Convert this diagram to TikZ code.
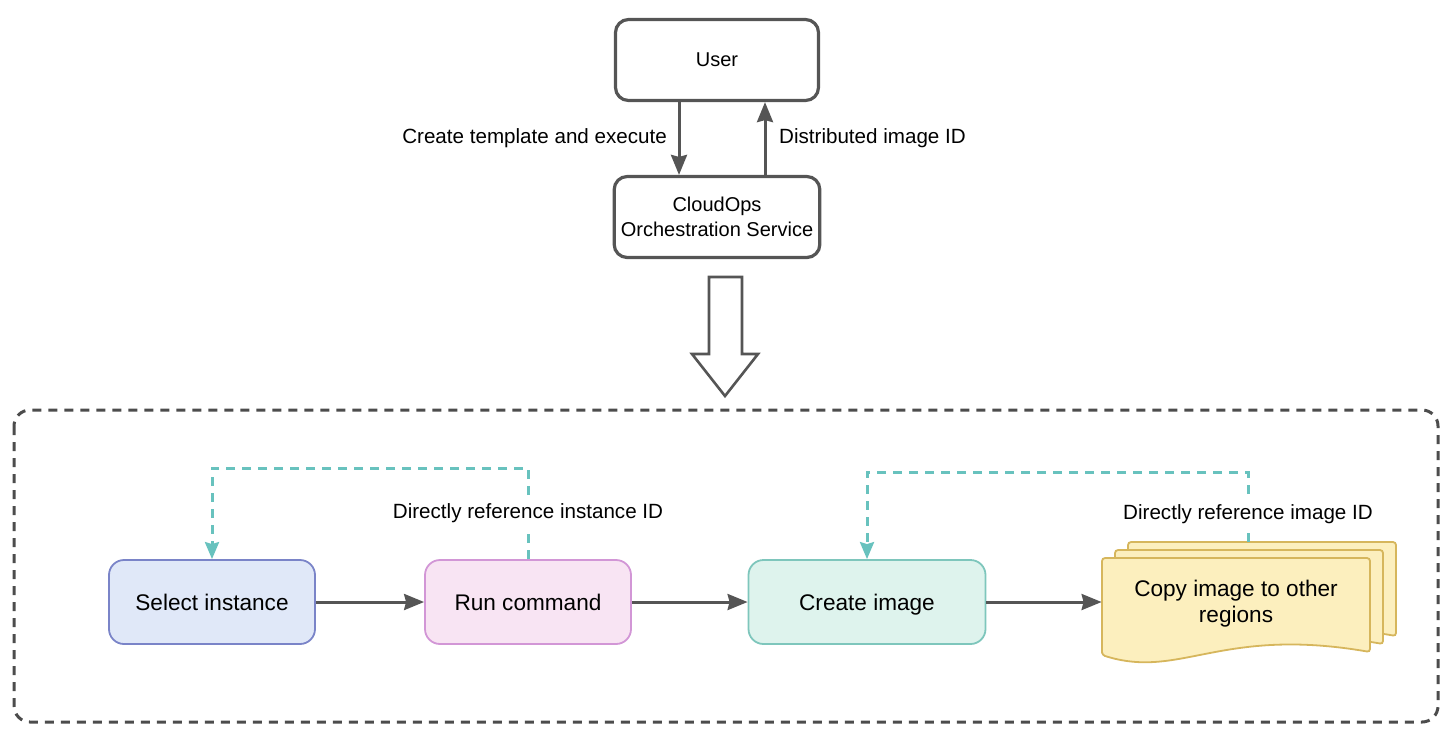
\documentclass[tikz,border=0pt]{standalone}
\usepackage{fontspec}
\setmainfont{Liberation Sans}
\usepackage{tikz}
\usetikzlibrary{arrows.meta}

\definecolor{linegray}{RGB}{85,85,85}
\definecolor{selfill}{RGB}{224,232,248}
\definecolor{seldraw}{RGB}{122,132,200}
\definecolor{runfill}{RGB}{248,228,243}
\definecolor{rundraw}{RGB}{210,150,214}
\definecolor{crefill}{RGB}{222,243,237}
\definecolor{credraw}{RGB}{126,198,188}
\definecolor{docfill}{RGB}{252,239,190}
\definecolor{docdraw}{RGB}{214,182,92}
\definecolor{reflink}{RGB}{104,194,190}

\tikzset{
    topbox/.style={draw=linegray, line width=1.6pt, rounded corners=6.5pt, minimum width=101.5pt, minimum height=40.5pt, align=center, font=\fontsize{10}{12.5}\selectfont},
    stepbox/.style={line width=0.9pt, rounded corners=7.5pt, minimum width=103pt, minimum height=42pt, text height=8.6pt, text depth=0pt, font=\fontsize{11.3}{13}\selectfont},
    arrowline/.style={draw=linegray, line width=1.5pt, -{Stealth[length=10pt,width=8pt,inset=1pt]}},
    refline/.style={draw=reflink, line width=1.5pt, dash pattern=on 4.5pt off 3.5pt, -{Stealth[length=8.5pt,width=7pt,inset=1pt]}},
    steplabel/.style={font=\fontsize{10.3}{12}\selectfont},
    docpage/.style={draw=docdraw, fill=docfill, line width=0.9pt, rounded corners=1.5pt}
}

\begin{document}
\begin{tikzpicture}[x=0.5pt, y=-0.5pt]
    \useasboundingbox (0,0) rectangle (1456,736);

    % top part
    \node[topbox] (user) at (717,60) {User};
    \node[topbox] (cloud) at (717,217) {CloudOps\\Orchestration Service};
    \draw[arrowline] ([xshift=-19pt]user.south) -- node[steplabel, left=2pt] {Create template and execute} ([xshift=-19pt]cloud.north);
    \draw[arrowline] ([xshift=24pt]cloud.north) -- node[steplabel, right=3pt] {Distributed image ID} ([xshift=24pt]user.south);

    % hollow arrow
    \draw[linegray, line width=1.3pt] (709,277) -- (742,277) -- (742,354) -- (758,354) -- (725,396) -- (692,354) -- (709,354) -- cycle;

    % dashed group
    \draw[draw=linegray!90!black, line width=1.5pt, dash pattern=on 4.5pt off 3.5pt, rounded corners=8pt] (14,410) rectangle (1438,722);

    % steps
    \node[stepbox, draw=seldraw, fill=selfill] (select) at (212,602) {Select instance};
    \node[stepbox, draw=rundraw, fill=runfill] (run) at (528,602) {Run command};
    \node[stepbox, draw=credraw, fill=crefill, minimum width=118.5pt] (create) at (867,602) {Create image};

    % stack of documents
    \foreach \d in {2,1,0}
        \draw[docpage, shift={(1102+13*\d,558-8*\d)}] (0,97) -- (0,0) -- (268,0) -- (268,94) .. controls (118,68) and (78,122) .. (0,97) -- cycle;
    \node[align=center, minimum width=134pt, font=\fontsize{11.3}{13}\selectfont] (copy) at (1236,604) {Copy image to other\\regions};
    \coordinate (stacktop) at (1248,542);

    \draw[arrowline] (select) -- (run);
    \draw[arrowline] (run) -- (create);
    \draw[arrowline] (create.east) -- (create.east -| copy.west);

    % reference links
    \draw[refline] (run.north) -- node[steplabel, fill=white, pos=0.5] {Directly reference instance ID} ++(0,-91) -| (select.north);
    \draw[refline] (stacktop) -- node[steplabel, fill=white, pos=0.4] {Directly reference image ID} ++(0,-70) -| (create.north);
\end{tikzpicture}
\end{document}
